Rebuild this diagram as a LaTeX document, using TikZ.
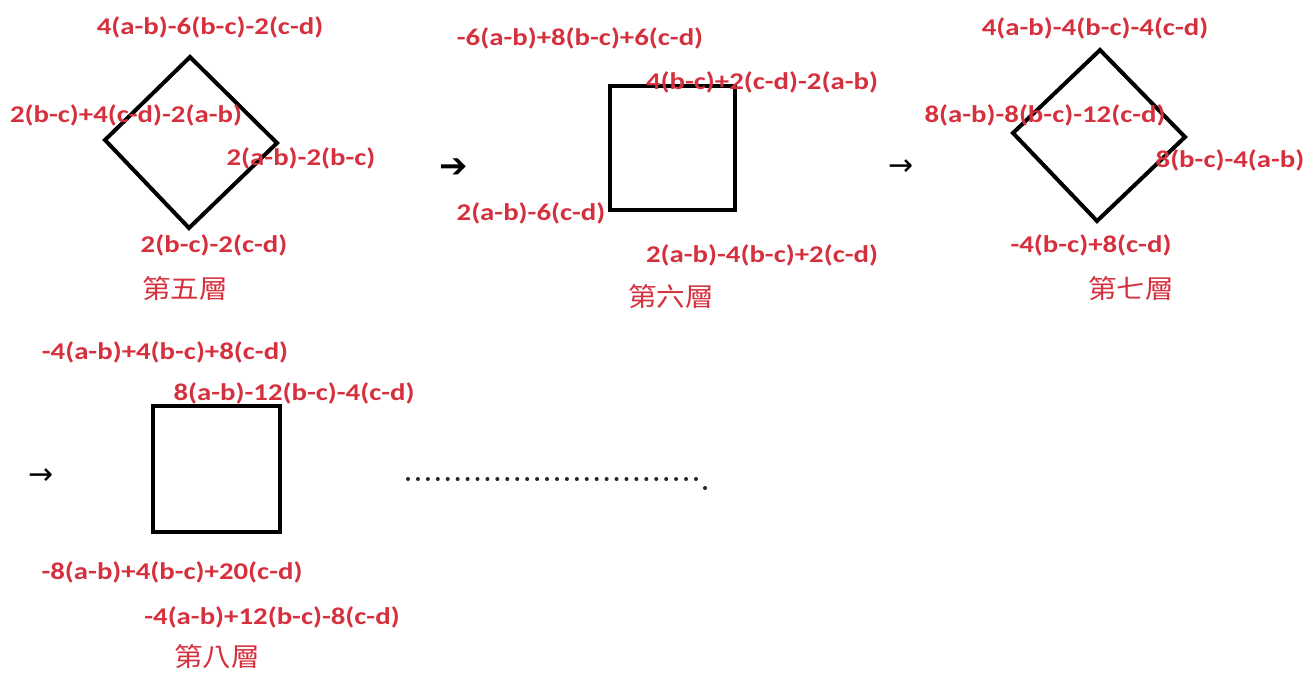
\documentclass[tikz,border=0pt]{standalone}
\usepackage{fontspec}
\setmainfont{Carlito}
\newfontfamily\cjk{Noto Sans CJK TC}
\newfontfamily\symf{DejaVu Sans}
\definecolor{lbl}{HTML}{D5303D}
\tikzset{
  f/.style={text=lbl, font=\bfseries\fontsize{24}{26}\selectfont, inner sep=0pt, xscale=1.2},
  layer/.style={text=lbl, font=\cjk\fontsize{26}{28}\selectfont, inner sep=0pt, xscale=1.1},
  shp/.style={draw=black, line width=4pt, line join=miter},
  arr/.style={inner sep=0pt, font=\symf\fontsize{30}{32}\selectfont},
}
\begin{document}
\begin{tikzpicture}[x=1pt,y=-1pt]
\useasboundingbox (0,0) rectangle (1306,673);
% panel 1
\coordinate (d1t) at (190,57); \coordinate (d1r) at (277,143);
\coordinate (d1b) at (189,228); \coordinate (d1l) at (105,140);
\draw[shp] (d1t) -- (d1r) -- (d1b) -- (d1l) -- cycle;
\node[f] (p1a) at (210,27) {4(a-b)-6(b-c)-2(c-d)};
\node[f] (p1b) at (126,115) {2(b-c)+4(c-d)-2(a-b)};
\node[f] (p1c) at (301,158) {2(a-b)-2(b-c)};
\node[f] (p1d) at (214,245) {2(b-c)-2(c-d)};
\node[layer] (L5) at (185,289) {第五層};
\node[arr, font=\symf\bfseries\fontsize{34}{36}\selectfont] (a1) at (454,168) {➔};
% panel 2
\coordinate (s2a) at (610,86); \coordinate (s2b) at (735,210);
\draw[shp] (s2a) rectangle (s2b);
\node[f] (p2a) at (580,38) {-6(a-b)+8(b-c)+6(c-d)};
\node[f] (p2b) at (762,82) {4(b-c)+2(c-d)-2(a-b)};
\node[f] (p2c) at (531,213) {2(a-b)-6(c-d)};
\node[f] (p2d) at (762,255) {2(a-b)-4(b-c)+2(c-d)};
\node[layer] (L6) at (671,297) {第六層};
\node[arr] (a2) at (901,168) {→};
% panel 3
\coordinate (d3t) at (1100,50); \coordinate (d3r) at (1185,137);
\coordinate (d3b) at (1097,221); \coordinate (d3l) at (1013,133);
\draw[shp] (d3t) -- (d3r) -- (d3b) -- (d3l) -- cycle;
\node[f] (p3a) at (1095,28) {4(a-b)-4(b-c)-4(c-d)};
\node[f] (p3b) at (1045,115) {8(a-b)-8(b-c)-12(c-d)};
\node[f] (p3c) at (1230,160) {8(b-c)-4(a-b)};
\node[f] (p3d) at (1091,245) {-4(b-c)+8(c-d)};
\node[layer] (L7) at (1131,289) {第七層};
\node[arr] (a3) at (41,477) {→};
% panel 4
\coordinate (s4a) at (153,406); \coordinate (s4b) at (280,532);
\draw[shp] (s4a) rectangle (s4b);
\node[f] (p4a) at (165,352) {-4(a-b)+4(b-c)+8(c-d)};
\node[f] (p4b) at (294,393) {8(a-b)-12(b-c)-4(c-d)};
\node[f] (p4c) at (172,572) {-8(a-b)+4(b-c)+20(c-d)};
\node[f] (p4d) at (272,617) {-4(a-b)+12(b-c)-8(c-d)};
\node[layer] (L8) at (217,657) {第八層};
% dots
\foreach \i in {0,...,29} { \fill[black!85] (408+\i*9.93,479) circle (2); }
\fill[black!85] (705,488) circle (2);
\end{tikzpicture}
\end{document}
